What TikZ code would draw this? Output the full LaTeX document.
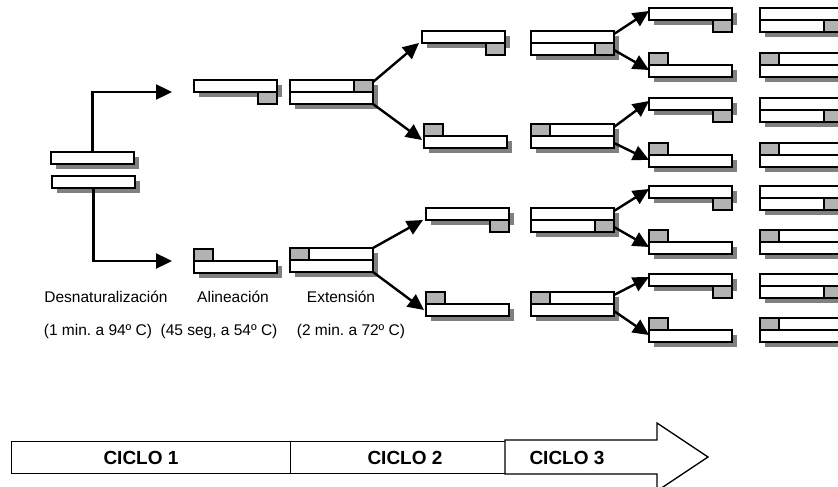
\documentclass[tikz,border=0pt]{standalone}
\usepackage{fontspec}
\setmainfont{Liberation Sans}
\usetikzlibrary{shadows,arrows.meta}
\definecolor{shadowgray}{HTML}{808080}
\definecolor{primergray}{HTML}{B2B2B2}
\tikzset{
  strand/.style={draw=black, line width=1.9pt, fill=white,
    drop shadow={shadow xshift=5pt, shadow yshift=-5pt, opacity=1, fill=shadowgray},
    minimum width=83pt, minimum height=12pt, inner sep=0pt, outer sep=0pt, anchor=north west},
  primer/.style={draw=black, line width=1.9pt, fill=primergray,
    minimum width=19pt, minimum height=12pt, inner sep=0pt, outer sep=0pt, anchor=north west},
  arr/.style={-{Triangle[length=16pt,width=15pt]}, line width=2.4pt},
  lab/.style={font=\fontsize{15.5}{18}\selectfont, inner sep=0pt},
  cyctext/.style={font=\fontsize{19}{22}\selectfont\bfseries, inner sep=0pt},
  cycbox/.style={draw=black, line width=1.3pt, fill=white},
}
% strand on top, primer below at the right
\newcommand\alnA[3]{%
  \node[strand] (#1) at (#2,#3) {};
  \node[primer, anchor=north east] (#1p) at (#1.south east) {};
}
% primer on top at the left, strand below
\newcommand\alnB[3]{%
  \node[primer] (#1p) at (#2,#3) {};
  \node[strand] (#1) at (#1p.south west) {};
}
% two strands, primer at the right of the top one
\newcommand\extTR[3]{%
  \node[strand] (#1) at (#2,#3) {};
  \node[primer, anchor=north east] (#1p) at (#1.north east) {};
  \node[strand] (#1b) at (#1.south west) {};
}
% two strands, primer at the right of the bottom one
\newcommand\extBR[3]{%
  \node[strand] (#1) at (#2,#3) {};
  \node[strand] (#1b) at (#1.south west) {};
  \node[primer, anchor=north east] (#1p) at (#1b.north east) {};
}
% two strands, primer at the left of the top one
\newcommand\extTL[3]{%
  \node[strand] (#1) at (#2,#3) {};
  \node[primer] (#1p) at (#1.north west) {};
  \node[strand] (#1b) at (#1.south west) {};
}
\frenchspacing
\begin{document}
\begin{tikzpicture}[x=1pt,y=-1pt]
\useasboundingbox (0,0) rectangle (838,487);
\clip (0,0) rectangle (838,487);

% initial double strand
\node[strand] (A1) at (51,152) {};
\node[strand] (A2) at (52,176) {};

% cycle 1
\alnA{B1}{194}{80}
\alnB{B2}{194}{249}
\extTR{C1}{290}{80}
\extTL{C2}{290}{248}

% cycle 2
\alnA{D1}{422}{31}
\alnB{D2}{424}{124}
\alnA{D3}{426}{208}
\alnB{D4}{426}{292}
\extBR{E1}{531}{31}
\extTL{E2}{531}{124}
\extBR{E3}{531}{208}
\extTL{E4}{531}{292}

% cycle 3
\alnA{F1}{649}{8}
\alnB{F2}{649}{53}
\alnA{F3}{649}{98}
\alnB{F4}{649}{143}
\alnA{F5}{649}{186}
\alnB{F6}{649}{230}
\alnA{F7}{649}{274}
\alnB{F8}{649}{318}
\extBR{G1}{760}{8}
\extTL{G2}{760}{53}
\extBR{G3}{760}{98}
\extTL{G4}{760}{143}
\extBR{G5}{760}{186}
\extTL{G6}{760}{230}
\extBR{G7}{760}{274}
\extTL{G8}{760}{318}

% connectors
\draw[arr] (A1.north) |- ([xshift=-22pt]B1.south west);
\draw[arr] (A2.south) |- ([xshift=-22pt]B2.north west);

\draw[arr] ([yshift=-2pt]C1.north east) -- ([xshift=-3pt]D1.south west);
\draw[arr] (C1b.south east) -- ([xshift=-2pt,yshift=2pt]D2.west);
\draw[arr] (C2.north east) -- ([xshift=-3pt]D3.south west);
\draw[arr] (C2b.south east) -- ([xshift=-2pt]D4.west);

\foreach \e/\u/\l in {E1/F1/F2, E2/F3/F4, E3/F5/F6, E4/F7/F8}{
  \draw[arr] ([yshift=-3pt]\e.north east) -- ([yshift=3pt]\u.west);
  \draw[arr] ([yshift=5pt]\e b.south east) -- ([yshift=1pt]\l.west);
}

% labels
\node[lab] (l1) at (106,297) {Desnaturalización};
\node[lab] (l2) at (233,297) {Alineación};
\node[lab] (l3) at (341,297) {Extensión};
\node[lab] (t1) at (98,331) {(1 min. a 94º C)};
\node[lab] (t2) at (219,331) {(45 seg, a 54º C)};
\node[lab] (t3) at (351,331) {(2 min. a 72º C)};

% cycle bar
\node[cycbox, minimum width=279pt, minimum height=32pt, inner sep=0pt, anchor=north west] (c1) at (11,441) {};
\node[cycbox, minimum width=215pt, minimum height=32pt, inner sep=0pt, anchor=north west] (c2) at (290,441) {};
\draw[cycbox] (505,440) -- (657,440) -- (657,423) -- (708,457) -- (657,491) -- (657,474) -- (505,474) -- cycle;
\node[cyctext] (k1) at (141,458) {CICLO 1};
\node[cyctext] (k2) at (405,458) {CICLO 2};
\node[cyctext] (k3) at (567,458) {CICLO 3};
\end{tikzpicture}
\end{document}
